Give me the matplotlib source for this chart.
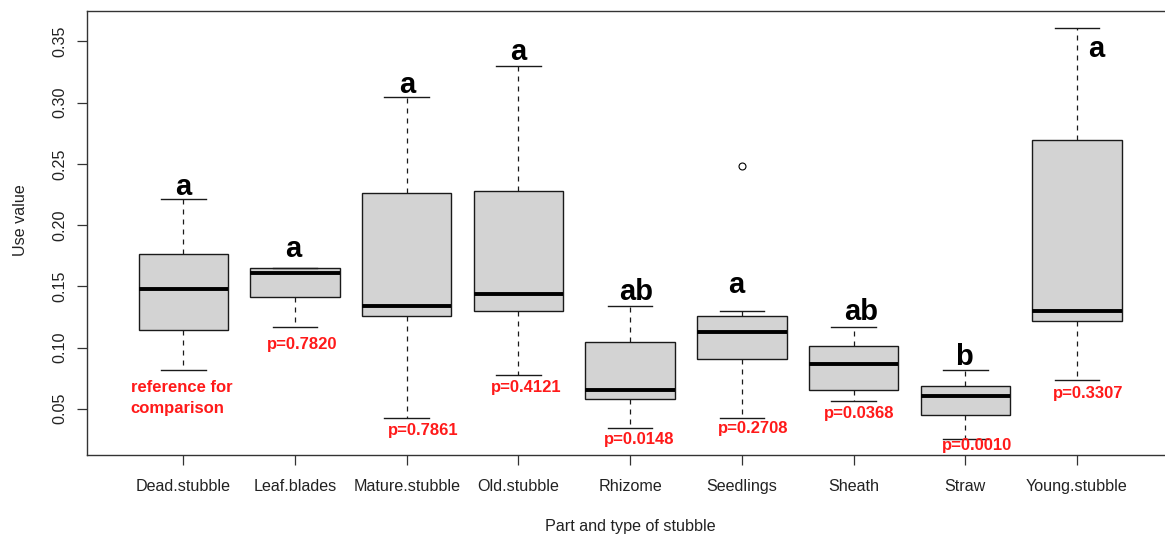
import matplotlib
matplotlib.use("Agg")
import matplotlib.pyplot as plt

plt.rcParams['font.family'] = ['Liberation Sans', 'DejaVu Sans']

# ---- data ----
categories = ['Dead.stubble', 'Leaf.blades', 'Mature.stubble', 'Old.stubble',
              'Rhizome', 'Seedlings', 'Sheath', 'Straw', 'Young.stubble']
whisker_low = [0.0819, 0.1170, 0.0426, 0.0775, 0.0342, 0.0426, 0.0563, 0.0255, 0.0734]
quartile1 = [0.1143, 0.1413, 0.1257, 0.1296, 0.0579, 0.0904, 0.0649, 0.0451, 0.1214]
medians = [0.1480, 0.1606, 0.1341, 0.1435, 0.0650, 0.1127, 0.0863, 0.0606, 0.1298]
quartile3 = [0.1761, 0.1652, 0.2260, 0.2281, 0.1042, 0.1257, 0.1015, 0.0688, 0.2693]
whisker_high = [0.2213, 0.1652, 0.3047, 0.3302, 0.1341, 0.1298, 0.1170, 0.0819, 0.3610]
outliers = [[], [], [], [], [], [0.2483], [], [], []]

group_letters = ['a', 'a', 'a', 'a', 'ab', 'a', 'ab', 'b', 'a']
letter_x = [1.00, 1.98, 3.00, 4.00, 5.05, 5.95, 7.07, 7.99, 9.17]
letter_y = [0.2246, 0.1739, 0.3079, 0.3349, 0.1388, 0.1443, 0.1225, 0.0857, 0.3376]

p_labels = ['reference for\ncomparison', 'p=0.7820', 'p=0.7861', 'p=0.4121',
            'p=0.0148', 'p=0.2708', 'p=0.0368', 'p=0.0010', 'p=0.3307']
p_x = [0.984, 2.063, 3.146, 4.071, 5.077, 6.105, 7.052, 8.108, 9.102]
p_y = [0.0587, 0.1023, 0.0322, 0.0673, 0.0252, 0.0342, 0.0457, 0.0199, 0.0624]

y_ticks = [0.05, 0.10, 0.15, 0.20, 0.25, 0.30, 0.35]

# ---- figure ----
W, H = 1165, 535
fig = plt.figure(figsize=(W / 100, H / 100), dpi=100)
ax_left, ax_right, ax_top, ax_bottom = 87.3, 1173.0, 11.0, 455.0
ax = fig.add_axes([ax_left / W, (H - ax_bottom) / H,
                   (ax_right - ax_left) / W, (ax_bottom - ax_top) / H])

stats = []
for i, name in enumerate(categories):
    stats.append(dict(label=name, whislo=whisker_low[i], q1=quartile1[i],
                      med=medians[i], q3=quartile3[i], whishi=whisker_high[i],
                      fliers=outliers[i]))

positions = list(range(1, len(categories) + 1))
ax.bxp(stats, positions=positions, widths=0.8, capwidths=0.4,
       patch_artist=True, showfliers=True,
       boxprops=dict(facecolor='#D3D3D3', edgecolor='#1a1a1a', linewidth=1.0),
       medianprops=dict(color='black', linewidth=2.8, solid_capstyle='butt'),
       whiskerprops=dict(color='#1a1a1a', linewidth=0.9, linestyle=(0, (4, 4))),
       capprops=dict(color='#1a1a1a', linewidth=1.0),
       flierprops=dict(marker='o', markerfacecolor='none', markeredgecolor='black',
                       markersize=5, markeredgewidth=0.8))

ax.set_xlim(0.14, 9.86)
ax.set_ylim(0.0122, 0.3749)

ax.set_xticks(positions)
ax.set_xticklabels(categories)
ax.set_yticks(y_ticks)
ax.set_yticklabels(['%.2f' % t for t in y_ticks], rotation=90, va='center')

ax.tick_params(axis='both', direction='out', length=7, width=0.9,
               color='#333333', labelsize=11.6, labelcolor='#222222')
ax.tick_params(axis='x', pad=10.5)
ax.tick_params(axis='y', pad=7)

for s in ax.spines.values():
    s.set_color('#333333')
    s.set_linewidth(1.0)

ax.set_xlabel('Part and type of stubble', fontsize=11.6, color='#222222')
ax.xaxis.set_label_coords(0.5, -0.145)
ax.set_ylabel('Use value', fontsize=11.6, color='#222222')
ax.yaxis.set_label_coords(-0.0545, 0.53)

for i in range(len(categories)):
    ax.text(letter_x[i], letter_y[i], group_letters[i], fontsize=21,
            fontweight='bold', ha='center', va='baseline', color='black')
    ax.text(p_x[i], p_y[i], p_labels[i], fontsize=12, fontweight='bold',
            ha='center', va='center', color='#ff1a1a', multialignment='left',
            linespacing=1.45)

fig.savefig('out.png', dpi=100)
